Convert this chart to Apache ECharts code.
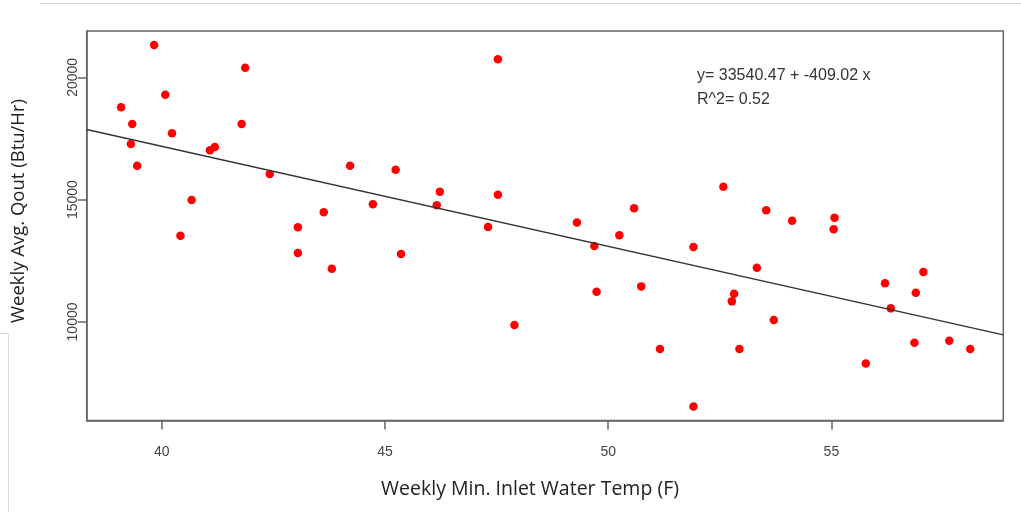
<!DOCTYPE html>
<html>
<head>
<meta charset="utf-8">
<script src="https://cdn.jsdelivr.net/npm/echarts@6/dist/echarts.min.js"></script>
<style>
html,body{margin:0;padding:0;background:#fff;}
#chart{width:1021px;height:512px;}
</style>
</head>
<body>
<div id="chart"></div>
<script>
// ---- data ----
const xValues = [39.09, 39.34, 39.31, 39.45, 39.83, 40.08, 40.23, 40.42, 40.67, 41.08,
  41.19, 41.79, 41.87, 42.42, 43.05, 43.05, 43.63, 43.81, 44.22, 44.73,
  45.24, 45.36, 46.16, 46.23, 47.31, 47.53, 47.53, 47.90, 49.30, 49.69,
  49.74, 50.25, 50.58, 50.74, 51.16, 51.91, 51.91, 52.58, 52.77, 52.82,
  52.94, 53.33, 53.54, 53.71, 54.12, 55.05, 55.07, 55.77, 56.20, 56.33,
  56.86, 56.89, 57.06, 57.64, 58.11];
const yValues = [18774, 18091, 17273, 16386, 21321, 19289, 17711, 13524, 14984, 17015,
  17150, 18091, 20392, 16047, 13867, 12817, 14481, 12175, 16386, 14808,
  16222, 12776, 14767, 15323, 13880, 15200, 20736, 9873, 14064, 13103,
  11235, 13540, 14644, 11455, 8892, 13062, 6549, 15527, 10842, 11153,
  8892, 12216, 14563, 10078, 14137, 13786, 14260, 8307, 11578, 10556,
  9150, 11194, 12040, 9231, 8892];
const intercept = 33540.47;
const slope = -409.02;
const rSquared = 0.52;
const xTicks = [40, 45, 50, 55];
const yTicks = [10000, 15000, 20000];
const xTitle = 'Weekly Min. Inlet Water Temp (F)';
const yTitle = 'Weekly Avg. Qout (Btu/Hr)';

// ---- chart ----
const xMin = 38.32, xMax = 58.85;
const yMin = 5973, yMax = 21893;
const points = xValues.map((x, i) => [x, yValues[i]]);
const fitLine = [[xMin, intercept + slope * xMin], [xMax, intercept + slope * xMax]];
const eqText = 'y= ' + intercept.toFixed(2) + ' + ' + slope.toFixed(2) + ' x';
const r2Text = 'R^2= ' + rSquared.toFixed(2);

const chart = echarts.init(document.getElementById('chart'), null, {renderer: 'canvas'});
const axisColor = '#666';
const tickFont = {fontFamily: '"Liberation Sans Narrow", "Liberation Sans", Arial, sans-serif', fontSize: 14, color: '#444'};
const plain = v => String(v);
chart.setOption({
  animation: false,
  backgroundColor: '#fff',
  grid: {left: 86.7, right: 17.7, top: 31, bottom: 91.5, show: true, borderColor: axisColor, borderWidth: 1.5, backgroundColor: 'transparent'},
  xAxis: {
    type: 'value', min: xMin, max: xMax,
    axisLine: {show: true, lineStyle: {color: axisColor, width: 1.5}},
    axisTick: {show: true, length: 9, customValues: xTicks, lineStyle: {color: axisColor, width: 1.5}},
    axisLabel: Object.assign({customValues: xTicks, margin: 25, formatter: plain}, tickFont),
    splitLine: {show: false}
  },
  yAxis: {
    type: 'value', min: yMin, max: yMax,
    axisLine: {show: true, lineStyle: {color: axisColor, width: 1.5}},
    axisTick: {show: true, length: 9, customValues: yTicks, lineStyle: {color: axisColor, width: 1.5}},
    axisLabel: Object.assign({customValues: yTicks, margin: 7, rotate: 90, formatter: plain}, tickFont),
    splitLine: {show: false}
  },
  series: [
    {type: 'scatter', data: points, symbol: 'circle', symbolSize: 8.5, itemStyle: {color: '#ff0000', opacity: 1}, z: 2},
    {type: 'line', data: fitLine, showSymbol: false, symbol: 'none', clip: true, lineStyle: {color: '#333', width: 1.3}, z: 3, silent: true}
  ],
  graphic: [
    {type: 'text', left: 697, top: 68, style: {text: eqText, font: '16px "Liberation Sans", Arial, sans-serif', fill: '#333'}},
    {type: 'text', left: 697, top: 92, style: {text: r2Text, font: '16px "Liberation Sans", Arial, sans-serif', fill: '#333'}},
    {type: 'text', x: 530, y: 489, style: {text: xTitle, font: '19.5px "Open Sans", "Liberation Sans", sans-serif', fill: '#222', align: 'center', verticalAlign: 'middle'}},
    {type: 'text', x: 19, y: 211, rotation: Math.PI / 2, style: {text: yTitle, font: '18.5px "Open Sans", "Liberation Sans", sans-serif', fill: '#222', align: 'center', verticalAlign: 'middle'}},
    {type: 'line', shape: {x1: 40, y1: 3.5, x2: 1021, y2: 3.5}, style: {stroke: '#d8d8d8', lineWidth: 1}},
    {type: 'line', shape: {x1: 0, y1: 333.5, x2: 8.5, y2: 333.5}, style: {stroke: '#d8d8d8', lineWidth: 1}},
    {type: 'line', shape: {x1: 8.5, y1: 333.5, x2: 8.5, y2: 512}, style: {stroke: '#d8d8d8', lineWidth: 1}}
  ]
});
</script>
</body>
</html>
